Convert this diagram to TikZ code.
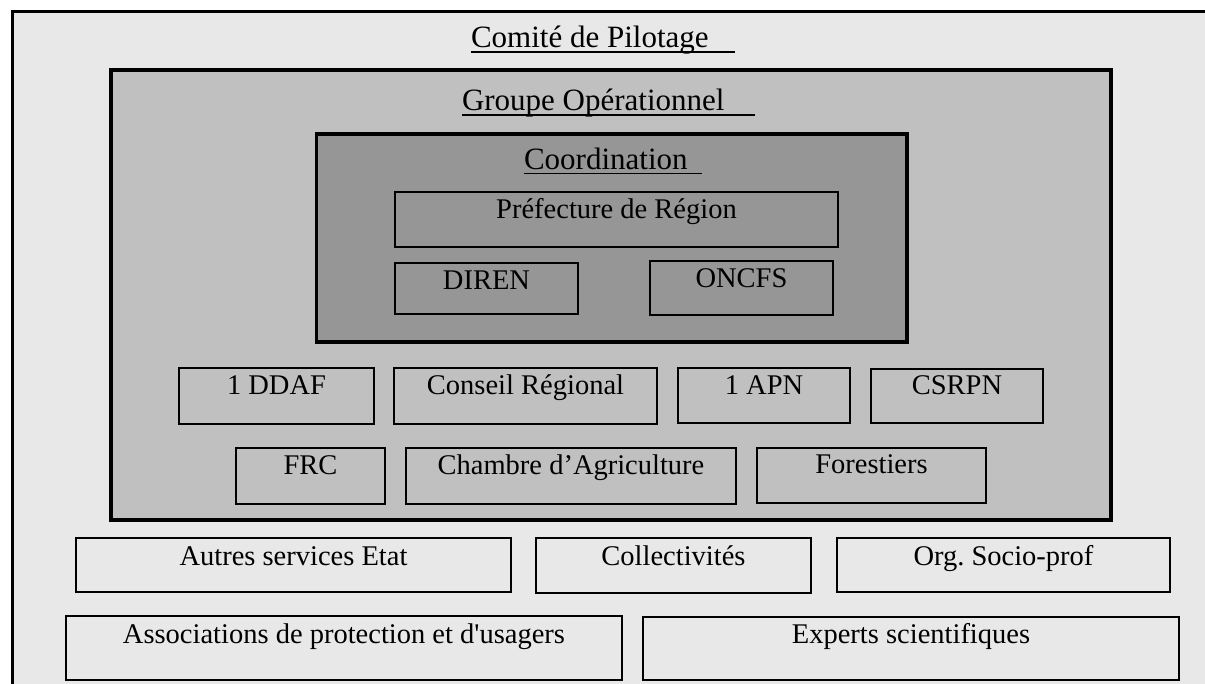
\documentclass[tikz,border=0pt]{standalone}
\usepackage{fontspec}
\setmainfont{Liberation Serif}
\usetikzlibrary{calc}
\frenchspacing
\definecolor{lightfill}{HTML}{E8E8E8}
\definecolor{midfill}{HTML}{C0C0C0}
\definecolor{darkfill}{HTML}{969696}
\newcommand\orgbox[8]{%
  \node[#2, minimum width={(#5)-(#3)}, minimum height={(#6)-(#4)}, anchor=north west] (#1) at (#3,#4) {};
  \node[lbl, anchor=base] (#1text) at ({((#3)+(#5))/2},#8) {#7};}
\begin{document}
\begin{tikzpicture}[x=1pt,y=-1pt,
  lbl/.style={font=\fontsize{28.5}{34}\selectfont, inner sep=0pt, outer sep=0pt, text=black},
  ttl/.style={font=\fontsize{31}{37}\selectfont, inner sep=0pt, outer sep=0pt, text=black, anchor=base west},
  uline/.style={draw=black, line width=1.6pt},
  basebox/.style={rectangle, draw=black, inner sep=0pt, outer sep=0pt},
  outerbox/.style={basebox, line width=3pt, fill=lightfill},
  groupbox/.style={basebox, line width=3.4pt, fill=midfill},
  coordbox/.style={basebox, line width=3.4pt, fill=darkfill},
  smallbox/.style={basebox, line width=2.2pt}]
\useasboundingbox (0,0) rectangle (1205,684);
\begin{scope}
\clip (0,0) rectangle (1205,684);
\node[outerbox, minimum width=1220, minimum height=700, anchor=north west] (pilotage) at (12,12) {};
\end{scope}
\node[ttl] (pilotagetitle) at (471,48) {Comité de Pilotage};
\draw[uline] ([yshift=-4pt]pilotagetitle.base west) -- ++(264,0);

\node[groupbox, minimum width=1000, minimum height=450, anchor=north west] (groupe) at (111,70) {};
\node[ttl] (groupetitle) at (462,111) {Groupe Opérationnel};
\draw[uline] ([yshift=-4pt]groupetitle.base west) -- ++(293,0);

\node[coordbox, minimum width=590.5, minimum height=208, anchor=north west] (coord) at (316.5,134) {};
\node[ttl] (coordtitle) at (524,170) {Coordination};
\draw[uline] ([yshift=-3.5pt]coordtitle.base west) -- ++(178,0);

\orgbox{pref}{smallbox}{395}{192}{838}{247}{Préfecture de Région}{219}
\orgbox{diren}{smallbox}{395}{263}{578}{314}{DIREN}{290}
\orgbox{oncfs}{smallbox}{650}{261}{833}{315}{ONCFS}{288}

\orgbox{ddaf}{smallbox}{179}{368}{374}{424}{1 DDAF}{395}
\orgbox{conseil}{smallbox}{394}{368}{657}{424}{Conseil Régional}{395}
\orgbox{apn}{smallbox}{678}{368}{850}{423}{1 APN}{395}
\orgbox{csrpn}{smallbox}{871}{369}{1043}{423}{CSRPN}{395}

\orgbox{frc}{smallbox}{236}{448}{385}{504}{FRC}{475}
\orgbox{chambre}{smallbox}{406}{448}{736}{504}{Chambre d’Agriculture}{475}
\orgbox{forest}{smallbox}{757}{448}{986}{503}{Forestiers}{473}

\orgbox{autres}{smallbox}{76}{538}{511}{592}{Autres services Etat}{565}
\orgbox{collect}{smallbox}{536}{538}{811}{593}{Collectivités}{565}
\orgbox{orgsp}{smallbox}{837}{538}{1170}{592}{Org.\ Socio-prof}{565}

\orgbox{assoc}{smallbox}{66}{616}{622}{680}{Associations de protection et d\textquotesingle usagers}{643}
\orgbox{experts}{smallbox}{643}{617}{1179}{680}{Experts scientifiques}{643}
\end{tikzpicture}
\end{document}
